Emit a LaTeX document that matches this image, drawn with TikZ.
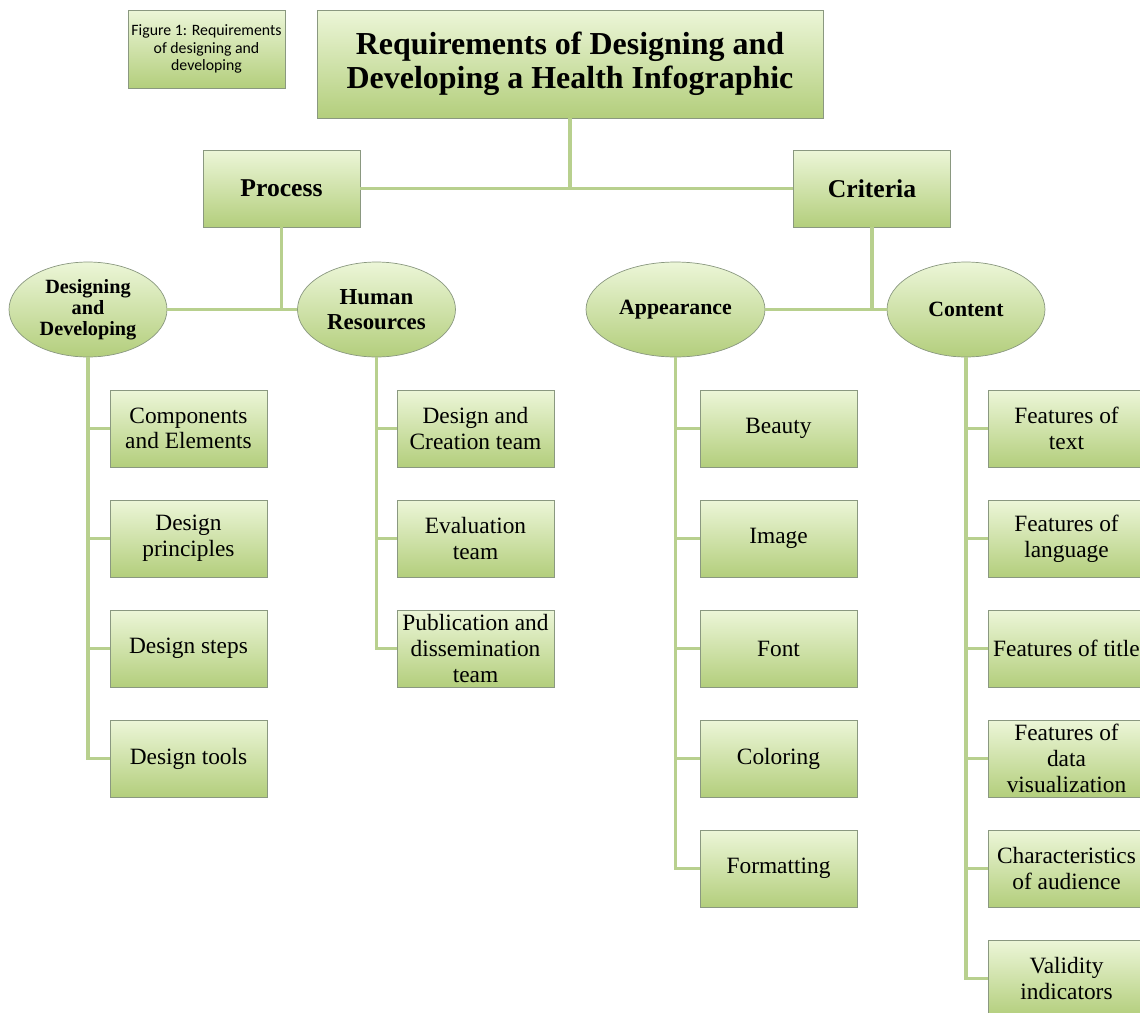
\documentclass[tikz,border=0pt]{standalone}
\usepackage{xcolor}
\usepackage{fontspec}
\setmainfont{Liberation Serif}
\newfontfamily\capfont{Carlito}
\usepackage{tikz}
\usetikzlibrary{positioning,shapes.geometric}

\definecolor{leafTop}{HTML}{ECF6D8}
\definecolor{leafBot}{HTML}{B3CE7C}
\definecolor{leafEdge}{HTML}{8A9880}
\definecolor{stemGreen}{HTML}{B8D08E}

\begin{document}
\begin{tikzpicture}[x=0.02cm, y=-0.02cm,
  box/.style={draw=leafEdge, top color=leafTop, bottom color=leafBot, minimum width=3.14cm, minimum height=1.54cm, align=center, inner sep=1pt, font=\fontsize{13.3}{14.6}\selectfont},
  head/.style={box, font=\bfseries\fontsize{14.6}{16}\selectfont},
  oval/.style={ellipse, draw=leafEdge, top color=leafTop, bottom color=leafBot, minimum width=3.16cm, minimum height=1.9cm, inner sep=0pt, align=center, font=\bfseries\fontsize{12.4}{13.5}\selectfont},
  stem/.style={draw=stemGreen, line width=1.8pt}]
\useasboundingbox (0,0) rectangle (1140,1012);

\node[box, font=\capfont\fontsize{9}{9.8}\selectfont, minimum height=1.56cm] (caption) at (206.5,49) {Figure 1: Requirements\\of designing and\\developing};
\node[box, minimum width=10.12cm, minimum height=2.16cm, font=\bfseries\fontsize{18.2}{19.5}\selectfont] (title) at (570,64) {Requirements of Designing and\\Developing a Health Infographic};

\node[head] (process) at (281.5,188.5) {Process};
\node[head] (criteria) at (872,188.5) {Criteria};

\node[oval, font=\bfseries\fontsize{11.5}{12}\selectfont] (design) at (88,309.5) {Designing\\and\\Developing};
\node[oval, font=\bfseries\fontsize{13}{14}\selectfont] (human) at (376.5,309.5) {Human\\Resources};
\node[oval, minimum width=3.58cm] (look) at (675.5,309.5) {Appearance};
\node[oval] (content) at (966,309.5) {Content};

\node[box] (design_0) at (188.5,428.5) {Components\\and Elements};
\node[box] (design_1) at (188.5,538.5) {Design\\principles};
\node[box] (design_2) at (188.5,648.5) {Design steps};
\node[box] (design_3) at (188.5,758.5) {Design tools};

\node[box] (human_0) at (475.5,428.5) {Design and\\Creation team};
\node[box] (human_1) at (475.5,538.5) {Evaluation\\team};
\node[box] (human_2) at (475.5,648.5) {Publication and\\dissemination\\team};

\node[box] (look_0) at (778.5,428.5) {Beauty};
\node[box] (look_1) at (778.5,538.5) {Image};
\node[box] (look_2) at (778.5,648.5) {Font};
\node[box] (look_3) at (778.5,758.5) {Coloring};
\node[box] (look_4) at (778.5,868.5) {Formatting};

\node[box] (content_0) at (1066.5,428.5) {Features of\\text};
\node[box] (content_1) at (1066.5,538.5) {Features of\\language};
\node[box] (content_2) at (1066.5,648.5) {Features of title};
\node[box] (content_3) at (1066.5,758.5) {Features of\\data\\visualization};
\node[box] (content_4) at (1066.5,868.5) {Characteristics\\of audience};
\node[box] (content_5) at (1066.5,978.5) {Validity\\indicators};

\draw[stem] (title.south) -- (title.south |- process.east);
\draw[stem] (process.east) -- (criteria.west);
\draw[stem] (process.south) -- (process.south |- design.east);
\draw[stem] (design.east) -- (human.west);
\draw[stem] (criteria.south) -- (criteria.south |- look.east);
\draw[stem] (look.east) -- (content.west);

\draw[stem] (design.south) |- (design_0.west);
\draw[stem] (design.south) |- (design_1.west);
\draw[stem] (design.south) |- (design_2.west);
\draw[stem] (design.south) |- (design_3.west);

\draw[stem] (human.south) |- (human_0.west);
\draw[stem] (human.south) |- (human_1.west);
\draw[stem] (human.south) |- (human_2.west);

\draw[stem] (look.south) |- (look_0.west);
\draw[stem] (look.south) |- (look_1.west);
\draw[stem] (look.south) |- (look_2.west);
\draw[stem] (look.south) |- (look_3.west);
\draw[stem] (look.south) |- (look_4.west);

\draw[stem] (content.south) |- (content_0.west);
\draw[stem] (content.south) |- (content_1.west);
\draw[stem] (content.south) |- (content_2.west);
\draw[stem] (content.south) |- (content_3.west);
\draw[stem] (content.south) |- (content_4.west);
\draw[stem] (content.south) |- (content_5.west);

\end{tikzpicture}
\end{document}
